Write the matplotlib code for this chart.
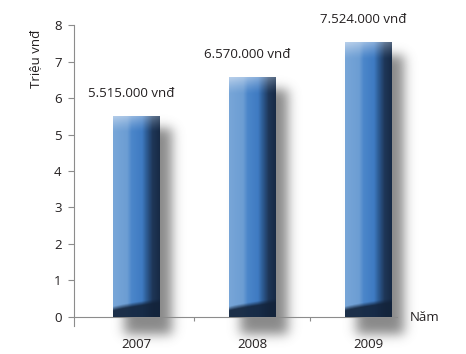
import math
import matplotlib
matplotlib.use("Agg")
import matplotlib.pyplot as plt
import numpy as np
from matplotlib.colors import to_rgb

years = ["2007", "2008", "2009"]
income = [5.515, 6.570, 7.524]          # triệu vnđ
income_labels = ["5.515.000 vnđ", "6.570.000 vnđ", "7.524.000 vnđ"]

plt.rcParams["font.family"] = ["Open Sans", "DejaVu Sans"]
plt.rcParams["font.size"] = 9.5

AXIS_COLOR = "#8c8c8c"
TEXT_COLOR = "#231f20"

_erf = np.vectorize(math.erf)


def soft_box(t, a, b, s):
    # a box from a to b blurred by a gaussian of width s
    return 0.5 * (_erf((t - a) / (s * 1.4142)) - _erf((t - b) / (s * 1.4142)))


def bar_texture(height, nx=80, ny=300):
    """Cylinder-style shading for one bar, rows run top -> bottom."""
    stops = [(0.00, "#78a6d8"), (0.30, "#6c9dd3"), (0.40, "#4b86ca"),
             (0.62, "#3f7bc2"), (0.72, "#2d5b93"), (0.85, "#1e3657"),
             (1.00, "#172a45")]
    u = np.linspace(0, 1, nx)
    base = np.zeros((nx, 3))
    pos = [p for p, _ in stops]
    cols = np.array([to_rgb(c) for _, c in stops])
    for k in range(3):
        base[:, k] = np.interp(u, pos, cols[:, k])
    y = np.linspace(height, 0, ny)[:, None]          # data units
    img = np.repeat(base[None, :, :], ny, axis=0)

    # pale cap at the top of the bar
    depth = height - y
    cap = np.clip(1 - depth / 0.45, 0, 1) ** 1.3 * (0.85 - 0.5 * u[None, :])
    light = np.array(to_rgb("#c4d7ee"))
    img = img * (1 - cap[..., None]) + light * cap[..., None]

    # dark curved foot
    edge = 0.22 + 0.22 * u[None, :] ** 0.8
    foot = np.clip((edge - y) / 0.12 + 0.5, 0, 1)
    dark = np.array(to_rgb("#13233a"))
    img = img * (1 - foot[..., None] * 0.9) + dark * foot[..., None] * 0.9
    return np.clip(img, 0, 1)


fig = plt.figure(figsize=(4.66, 3.54), dpi=100)
ax = fig.add_axes([0.159, 0.079, 0.693, 0.85])

x = np.arange(len(years))
width = 0.4
ymin, ymax = -0.25, 8
xmin, xmax = -0.534, 2.25

bars = ax.bar(x, income, width, color="none", zorder=3)

for rect, val, lab in zip(bars, income, income_labels):
    x0 = rect.get_x()
    x1 = x0 + rect.get_width()

    # soft drop shadow, shifted right and down
    sx = np.linspace(x0 - 0.1, x1 + 0.35, 160)
    sy = np.linspace(val + 0.3, -1.0, 300)
    shade = soft_box(sx[None, :], x0 + 0.1, x1 + 0.11, 0.05) * \
        soft_box(sy[:, None], -0.5, val - 0.35, 0.15)
    rgba = np.zeros(shade.shape + (4,))
    rgba[..., :3] = 0.42
    rgba[..., 3] = 0.8 * shade
    ax.imshow(rgba, extent=(sx[0], sx[-1], sy[-1], sy[0]), aspect="auto",
              interpolation="bilinear", zorder=1, clip_on=False)

    tex = ax.imshow(bar_texture(val), extent=(x0, x1, 0, val), aspect="auto",
                    interpolation="bilinear", zorder=2)
    tex.set_clip_path(rect)

    ax.text(rect.get_x() + rect.get_width() / 2 - 0.04, val + 0.62, lab,
            ha="center", va="center", color=TEXT_COLOR, fontsize=9.5)

ax.set_xlim(xmin, xmax)
ax.set_ylim(ymin, ymax)

for side in ("top", "right"):
    ax.spines[side].set_visible(False)
ax.spines["left"].set_color(AXIS_COLOR)
ax.spines["bottom"].set_color(AXIS_COLOR)
ax.spines["bottom"].set_position(("data", 0))
ax.spines["bottom"].set_zorder(1.5)

ax.set_yticks(range(0, 9))
ax.tick_params(axis="y", direction="out", length=4, width=0.8,
               color=AXIS_COLOR, pad=5, labelcolor=TEXT_COLOR, labelsize=9.5)

ax.set_xticks(x)
ax.set_xticklabels(years)
ax.set_xticks([0.5, 1.5], minor=True)
ax.tick_params(axis="x", which="major", length=0, pad=15,
               labelcolor=TEXT_COLOR, labelsize=9.5)
ax.tick_params(axis="x", which="minor", direction="out", length=3,
               width=0.8, color=AXIS_COLOR)

ax.text(-0.118, 0.985, "Triệu vnđ", transform=ax.transAxes, rotation=90,
        ha="center", va="top", color=TEXT_COLOR, fontsize=9.5)
ax.text(1.04, 0.03, "Năm", transform=ax.transAxes, ha="left", va="center",
        color=TEXT_COLOR, fontsize=9.5)

fig.savefig("out.png", dpi=100)
